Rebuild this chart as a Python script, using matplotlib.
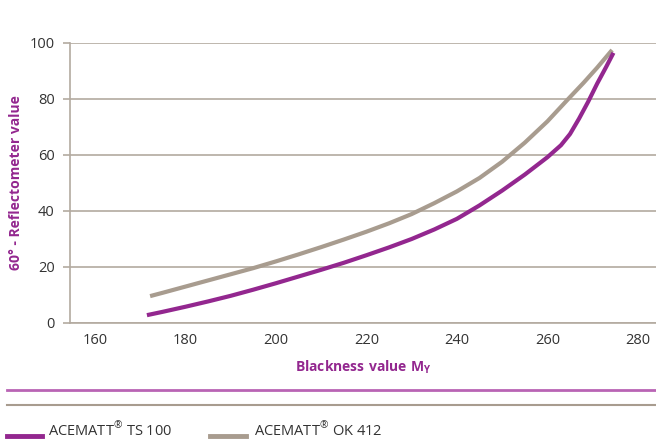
import matplotlib
matplotlib.use('Agg')
import matplotlib.pyplot as plt
from matplotlib.lines import Line2D

plt.rcParams['font.family'] = ['Open Sans', 'DejaVu Sans']
plt.rcParams['mathtext.fontset'] = 'custom'
plt.rcParams['mathtext.rm'] = 'Open Sans'
plt.rcParams['mathtext.bf'] = 'Open Sans:bold'

PURPLE = '#93278f'
GREY = '#a89c8f'
GRID = '#b3aaa0'
TEXT = '#333333'

# data
ts100_x = [171.5, 175, 180, 185, 190, 195, 200, 205, 210, 215, 220, 225, 230, 235, 240,
           245, 250, 255, 260, 263, 265, 267, 269, 271, 273, 274.6]
ts100_y = [2.8, 4.0, 5.8, 7.7, 9.7, 11.9, 14.2, 16.6, 19.0, 21.5, 24.2, 27.0, 30.0, 33.4, 37.2,
           42.0, 47.3, 53.0, 59.2, 63.5, 67.5, 73.0, 79.0, 85.5, 91.5, 96.5]
ok412_x = [172.2, 175, 180, 185, 190, 195, 200, 205, 210, 215, 220, 225, 230, 235, 240,
           245, 250, 255, 260, 264.6, 268, 271, 274.3]
ok412_y = [9.6, 10.8, 13.0, 15.2, 17.4, 19.6, 22.0, 24.5, 27.1, 29.8, 32.6, 35.6, 38.9, 42.8, 47.0,
           51.8, 57.6, 64.4, 72.0, 80.0, 85.8, 91.2, 97.5]
y_ticks = [0, 20, 40, 60, 80, 100]
x_ticks = [160, 180, 200, 220, 240, 260, 280]
names = ['ACEMATT$^{®}$ TS 100', 'ACEMATT$^{®}$ OK 412']

fig = plt.figure(figsize=(6.56, 4.41), dpi=100)
ax = fig.add_axes([70 / 656, 118 / 441, 586 / 656, 280 / 441])

ax.plot(ok412_x, ok412_y, color=GREY, lw=3.0, solid_capstyle='butt', solid_joinstyle='round', zorder=3)
ax.plot(ts100_x, ts100_y, color=PURPLE, lw=3.0, solid_capstyle='butt', solid_joinstyle='round', zorder=4)

ax.set_xlim(154.5, 284)
ax.set_ylim(0, 100)
ax.set_yticks(y_ticks)
ax.set_xticks(x_ticks)
ax.yaxis.grid(True, color=GRID, lw=1.2)
ax.set_axisbelow(True)
for s in ['top', 'right']:
    ax.spines[s].set_visible(False)
ax.spines['left'].set_color(GRID)
ax.spines['bottom'].set_color(GRID)
ax.spines['left'].set_linewidth(1.2)
ax.spines['bottom'].set_linewidth(1.2)
ax.tick_params(axis='y', colors=GRID, labelcolor=TEXT, labelsize=10.5, length=5, width=1.2, pad=6)
ax.tick_params(axis='x', length=0, labelcolor=TEXT, labelsize=10.5, pad=7)

ax.set_ylabel('60° - Reflectometer value', color=PURPLE, fontsize=10, fontweight='bold', labelpad=5)
ax.set_xlabel(r'$\mathbf{Blackness\ value\ M_Y}$', color=PURPLE, fontsize=10, labelpad=8)

# separators under the chart
fig.add_artist(Line2D([7 / 656, 1], [1 - 390 / 441] * 2, color='#b964b4', lw=2))
fig.add_artist(Line2D([7 / 656, 1], [1 - 405 / 441] * 2, color=GREY, lw=1.5))

# legend at the bottom
y_leg = 1.5 / 441
fig.add_artist(Line2D([7 / 656, 42 / 656], [1 - 436 / 441] * 2, color=PURPLE, lw=3.5))
fig.text(48 / 656, y_leg, names[0], color=TEXT, fontsize=10.5, va='bottom')
fig.add_artist(Line2D([210 / 656, 246 / 656], [1 - 436 / 441] * 2, color=GREY, lw=3.5))
fig.text(254 / 656, y_leg, names[1], color=TEXT, fontsize=10.5, va='bottom')

fig.savefig('out.png', dpi=100)
